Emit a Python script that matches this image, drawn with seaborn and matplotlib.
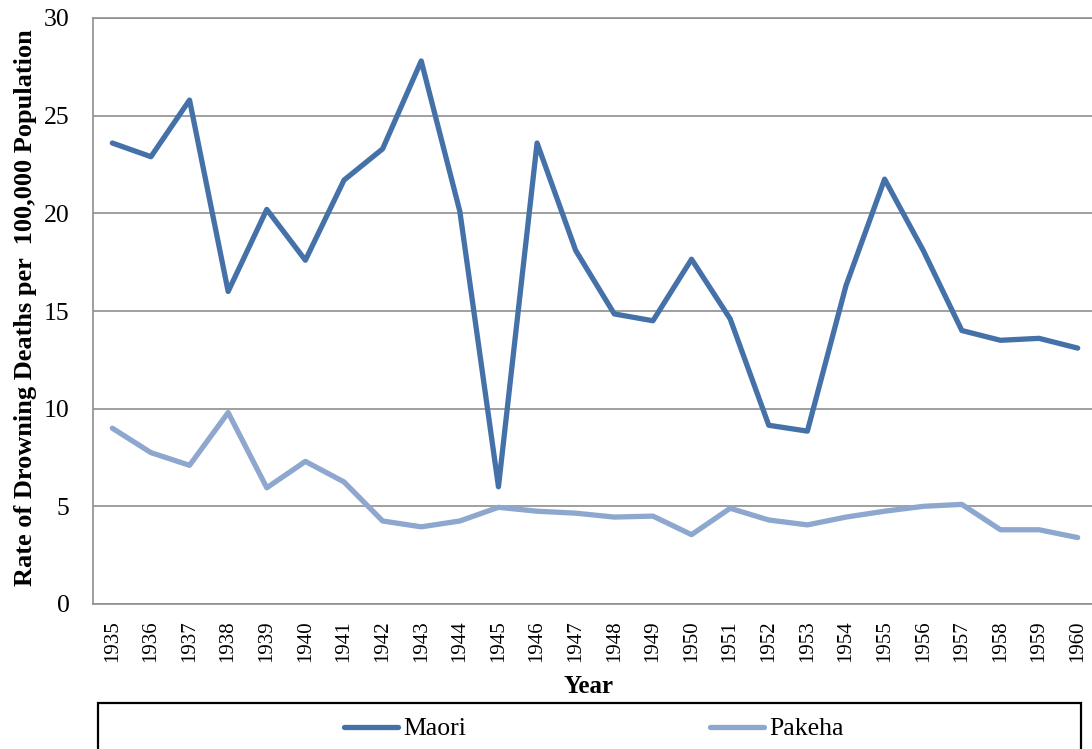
# Drowning death rates, Maori vs Pakeha, 1935-1960
import pandas as pd
import matplotlib.pyplot as plt
import seaborn as sns
from matplotlib.patches import Rectangle

# data
years = list(range(1935, 1961))
maori = [23.6, 22.9, 25.8, 16.0, 20.2, 17.6, 21.7, 23.3, 27.8, 20.1, 6.0, 23.6, 18.1,
         14.85, 14.5, 17.65, 14.6, 9.15, 8.85, 16.3, 21.75, 18.1, 14.0, 13.5, 13.6, 13.1]
pakeha = [9.0, 7.75, 7.1, 9.8, 5.95, 7.3, 6.25, 4.25, 3.95, 4.25, 4.95, 4.75, 4.65,
          4.45, 4.5, 3.55, 4.9, 4.3, 4.05, 4.45, 4.75, 5.0, 5.1, 3.8, 3.8, 3.4]
groups = ['Maori', 'Pakeha']
colors = {'Maori': '#4571A9', 'Pakeha': '#8DA7CE'}

df = pd.DataFrame({
    'Year': years * 2,
    'Rate': maori + pakeha,
    'Group': [groups[0]] * len(years) + [groups[1]] * len(years),
})

sns.set_style('white')
plt.rcParams['font.family'] = ['Liberation Serif', 'DejaVu Serif']
for key in ['text.color', 'axes.labelcolor', 'xtick.color', 'ytick.color']:
    plt.rcParams[key] = 'black'

W, H = 1092, 749
fig = plt.figure(figsize=(W / 100, H / 100), dpi=100)
ax = fig.add_axes([93 / W, 1 - 604 / H, 1004 / W, 586 / H])

sns.lineplot(data=df, x='Year', y='Rate', hue='Group', palette=colors,
             linewidth=3.8, solid_capstyle='round', solid_joinstyle='round', ax=ax)
handles, labels = ax.get_legend_handles_labels()
ax.get_legend().remove()

# axes styling
grid_c = '#8f8f8f'
ax.set_xlim(years[0] - 0.5, years[-1] + 0.5)
ax.set_ylim(0, 30)
ax.set_yticks(range(0, 31, 5))
ax.set_xticks(years)
ax.set_xticklabels([str(y) for y in years], rotation=90, fontsize=15)
ax.tick_params(axis='y', labelsize=18.5, length=0, pad=17)
ax.tick_params(axis='x', length=0, pad=12)
ax.yaxis.grid(True, color=grid_c, linewidth=1.2)
ax.set_axisbelow(True)
for side in ['left', 'top', 'bottom']:
    ax.spines[side].set_color(grid_c)
    ax.spines[side].set_linewidth(1.2)
ax.spines['right'].set_visible(False)

ax.set_ylabel('Rate of Drowning Deaths per  100,000 Population', fontsize=19, fontweight='bold')
ax.yaxis.set_label_coords((37 - 93) / 1004, 0.505)
ax.set_xlabel('Year', fontsize=18, fontweight='bold')
ax.xaxis.set_label_coords((588 - 93) / 1004, (604 - 675) / 586)

# legend box (runs off the bottom of the image)
fig.patches.append(Rectangle((98 / W, -0.05), (1081 - 98) / W, 0.05 + 1 - 703 / H,
                             transform=fig.transFigure, fill=False,
                             edgecolor='black', linewidth=1.6))
fig.legend(handles, labels, loc='center', bbox_to_anchor=(594 / W, 1 - 729 / H),
           ncol=2, frameon=False, fontsize=18.5, handlelength=2.1,
           handletextpad=0.2, columnspacing=9.5)

fig.savefig('out.png', dpi=100)
